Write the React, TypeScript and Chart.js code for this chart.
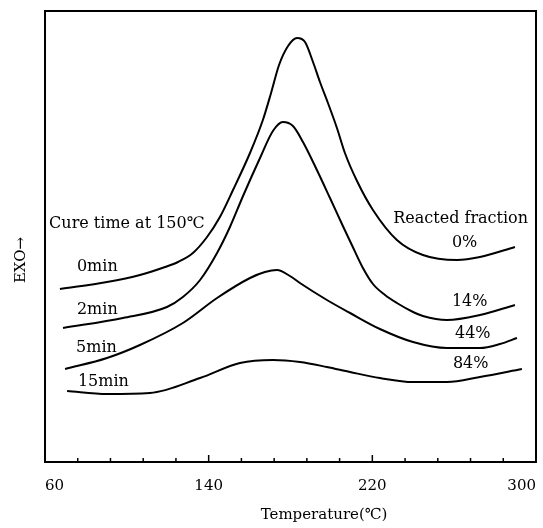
import React, { useEffect, useRef } from 'react';
import { Chart, registerables } from 'chart.js';

Chart.register(...registerables);

// Temperature (°C) and relative exotherm (arbitrary units)
const temp0 = [67.3, 90.3, 106.4, 118.7, 125.0, 132.3, 139.2, 145.5, 151.9, 160.2, 166.5, 170.5, 174.4, 178.8, 183.2, 187.1, 191.0, 194.4, 198.3, 202.7, 206.6, 212.5, 220.3, 232.0, 244.7, 261.4, 272.6, 289.7];
const exo0 = [173, 180, 187, 195, 200, 209, 225, 245, 272, 309, 342, 369, 397, 416, 424, 420, 400, 380, 359, 334, 309, 281, 252, 222, 207, 202, 205, 215];

const temp2 = [68.8, 98.1, 119.6, 127.4, 135.8, 144.1, 150.4, 156.8, 165.1, 171.4, 176.3, 181.2, 186.1, 192.9, 199.3, 205.6, 210.0, 215.4, 220.3, 226.2, 232.0, 239.9, 244.7, 256.5, 272.6, 289.7];
const exo2 = [134, 144, 155, 165, 182, 209, 235, 266, 304, 331, 340, 336, 320, 292, 264, 236, 217, 194, 178, 167, 159, 150, 146, 142, 147, 157];

const temp5 = [69.8, 90.3, 106.4, 127.4, 144.1, 160.2, 167.5, 173.4, 179.7, 184.6, 197.8, 209.1, 223.7, 239.9, 256.5, 272.6, 282.4, 290.7];
const exo5 = [93, 104, 117, 139, 164, 184, 190, 192, 186, 179, 162, 149, 133, 120, 114, 114, 118, 124];

const temp15 = [70.8, 90.3, 111.3, 135.8, 155.3, 171.4, 184.6, 197.8, 209.1, 223.7, 239.9, 256.5, 272.6, 293.1];
const exo15 = [71, 68, 69, 84, 99, 102, 100, 95, 90, 84, 80, 80, 85, 93];

const cureTimes = ['0min', '2min', '5min', '15min'];
const fractions = ['0%', '14%', '44%', '84%'];
const labeledTicks = [60, 140, 220, 300];
const allTicks = [60, 76, 92, 108, 124, 140, 156, 172, 188, 204, 220, 236, 252, 268, 284, 300];

const SERIF = '"DejaVu Serif", "Liberation Serif", serif';

// label anchors in data coordinates (temperature, exo)
const cureLabelPos = [
  [75.6, 195],
  [75.6, 152],
  [75.2, 114],
  [76.1, 80],
];
const fracLabelPos = [
  [258.9, 219],
  [258.9, 160],
  [260.4, 128],
  [259.4, 98],
];

const decorPlugin = {
  id: 'decor',
  afterDraw(chart: any) {
    const { ctx, chartArea: a, scales } = chart;
    const x = scales.x;
    const y = scales.y;
    ctx.save();
    ctx.strokeStyle = '#000';
    ctx.lineWidth = 2;
    ctx.strokeRect(a.left, a.top, a.right - a.left, a.bottom - a.top);
    ctx.lineWidth = 1.5;
    allTicks.forEach((t) => {
      const px = x.getPixelForValue(t);
      const len = t === 140 || t === 220 ? 7 : 4;
      ctx.beginPath();
      ctx.moveTo(px, a.bottom);
      ctx.lineTo(px, a.bottom - len);
      ctx.stroke();
    });

    ctx.fillStyle = '#000';
    ctx.font = `16px ${SERIF}`;
    ctx.textBaseline = 'middle';
    ctx.textAlign = 'left';
    ctx.fillText('Cure time at 150\u2103', x.getPixelForValue(62), y.getPixelForValue(238));
    cureTimes.forEach((s, i) => {
      ctx.fillText(s, x.getPixelForValue(cureLabelPos[i][0]), y.getPixelForValue(cureLabelPos[i][1]));
    });
    ctx.textAlign = 'right';
    ctx.fillText('Reacted fraction', x.getPixelForValue(296.1), y.getPixelForValue(243));
    ctx.textAlign = 'left';
    fractions.forEach((s, i) => {
      ctx.fillText(s, x.getPixelForValue(fracLabelPos[i][0]), y.getPixelForValue(fracLabelPos[i][1]));
    });

    // axis titles
    ctx.font = `15px ${SERIF}`;
    ctx.textAlign = 'center';
    ctx.fillText('Temperature(\u2103)', x.getPixelForValue(196.4), 515);
    ctx.translate(21, 260);
    ctx.rotate(-Math.PI / 2);
    ctx.fillText('EXO\u2192', 0, 0);
    ctx.restore();
  },
};

const toPoints = (xs: number[], ys: number[]) => xs.map((t, i) => ({ x: t, y: ys[i] }));

export default function App() {
  const ref = useRef<HTMLCanvasElement | null>(null);

  useEffect(() => {
    if (!ref.current) return;
    const series = [
      toPoints(temp0, exo0),
      toPoints(temp2, exo2),
      toPoints(temp5, exo5),
      toPoints(temp15, exo15),
    ];
    const chart = new Chart(ref.current, {
      type: 'line',
      data: {
        datasets: series.map((d, i) => ({
          label: cureTimes[i],
          data: d,
          borderColor: '#000',
          borderWidth: 2,
          pointRadius: 0,
          fill: false,
          cubicInterpolationMode: 'monotone' as const,
        })),
      },
      options: {
        animation: false,
        responsive: true,
        maintainAspectRatio: false,
        layout: { padding: { left: 45, right: 7, top: 11, bottom: 0 } },
        plugins: { legend: { display: false }, tooltip: { enabled: false } },
        scales: {
          x: {
            type: 'linear',
            min: 60,
            max: 300,
            grid: { display: false },
            border: { display: false },
            afterBuildTicks: (scale: any) => {
              scale.ticks = allTicks.map((v) => ({ value: v }));
            },
            afterFit: (scale: any) => {
              scale.height = 66;
              scale.paddingLeft = 0;
              scale.paddingRight = 0;
            },
            ticks: {
              autoSkip: false,
              maxRotation: 0,
              align: 'inner',
              padding: 7,
              color: '#000',
              font: { family: SERIF, size: 15 },
              callback: (v: any) => (labeledTicks.includes(Number(v)) ? String(v) : ''),
            },
            title: { display: false },
          },
          y: {
            type: 'linear',
            display: false,
            min: 0,
            max: 451,
          },
        },
      },
      plugins: [decorPlugin],
    });
    return () => chart.destroy();
  }, []);

  return (
    <div style={{ position: 'fixed', left: 0, top: 0, width: 543, height: 528, background: '#fff' }}>
      <canvas ref={ref} />
    </div>
  );
}
